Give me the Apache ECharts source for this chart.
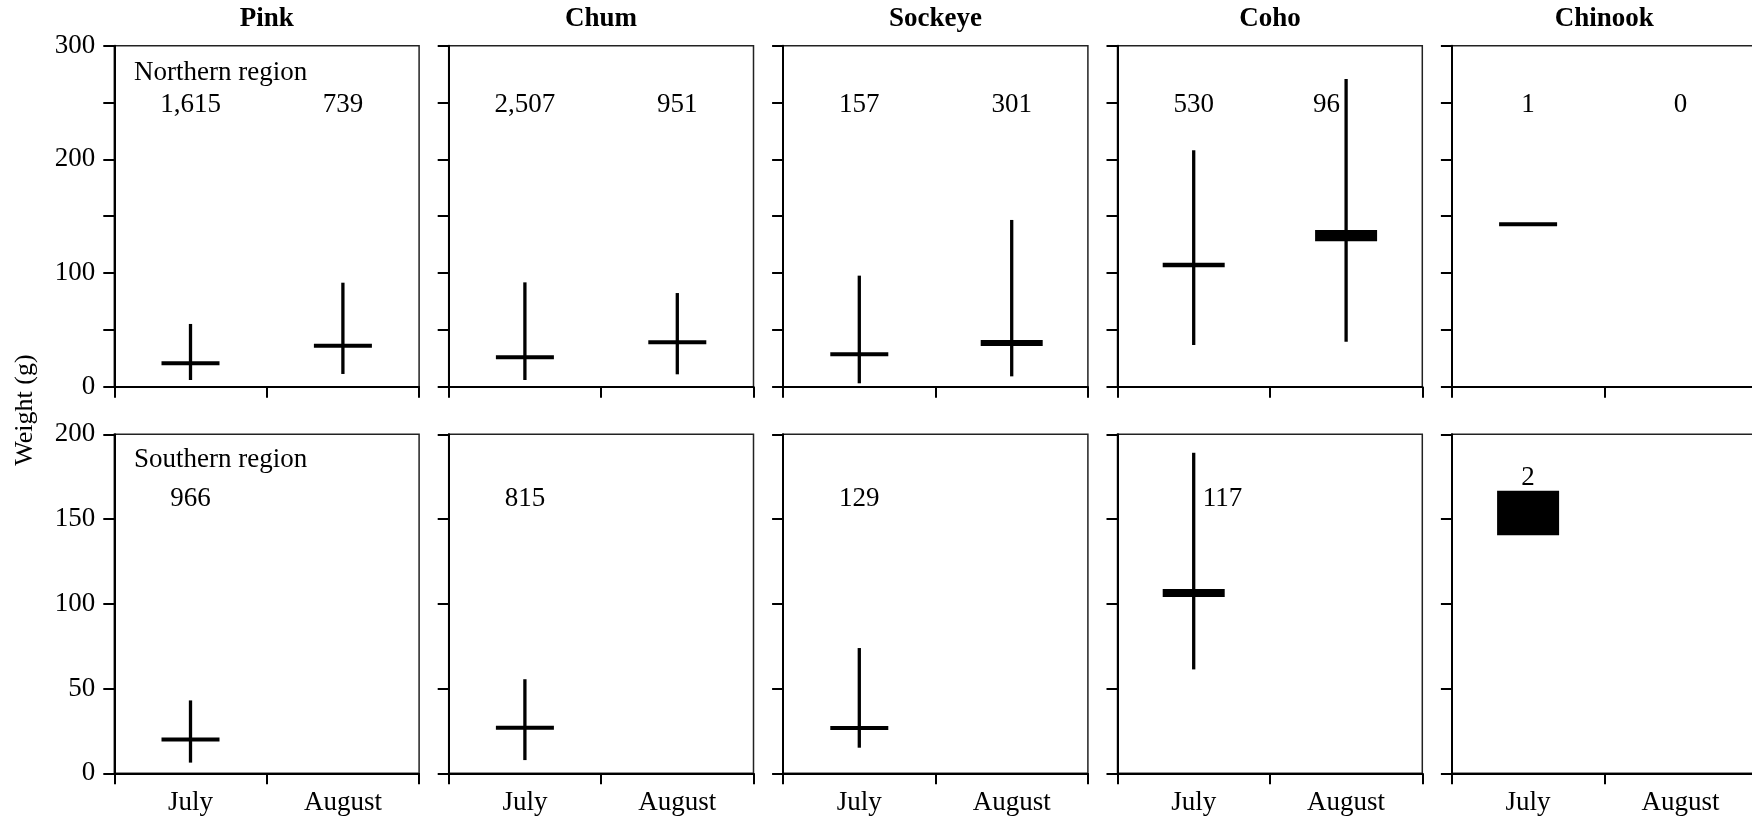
<!DOCTYPE html>
<html><head><meta charset="utf-8">
<script src="https://cdn.jsdelivr.net/npm/echarts@6/dist/echarts.min.js"></script>
<style>html,body{margin:0;padding:0;background:#fff}#c{width:1752px;height:820px}</style>
</head><body><div id="c"></div><script>
// ---------- data ----------
const species = ['Pink', 'Chum', 'Sockeye', 'Coho', 'Chinook'];
const months = ['July', 'August'];
const regionNames = ['Northern region', 'Southern region'];
const yAxisTitle = 'Weight (g)';
const northYTicks = [0, 100, 200, 300];
const southYTicks = [0, 50, 100, 150, 200];

// per species: [July, August]   (null = no fish)
const northMin  = [[5.9, 11.2], [5.9, 10.9], [3.0, 9.1],   [36.7, 39.6],  [143, null]];
const northMax  = [[55.2, 91.5],[91.8, 82.4],[97.7, 146.7],[208, 270.7],  [143, null]];
const northLow  = [[20.6, 36.1],[25.8, 39.0],[28.5, 37.5], [106.8, 129.8],[143, null]];
const northHigh = [[20.6, 36.1],[25.8, 39.0],[28.5, 39.3], [107.2, 136.0],[143, null]];
const northN    = [[1615, 739], [2507, 951], [157, 301],   [530, 96],     [1, 0]];

const southMin  = [[6.3, null], [7.8, null], [15.1, null], [61.3, null],  [141.6, null]];
const southMax  = [[43.0, null],[55.5, null],[73.9, null], [189.1, null], [165.5, null]];
const southLow  = [[20.0, null],[26.9, null],[26.7, null], [105.2, null], [141.6, null]];
const southHigh = [[20.0, null],[26.9, null],[26.7, null], [107.6, null], [165.5, null]];
const southN    = [[966, null], [815, null], [129, null],  [117, null],   [2, null]];

// ---------- layout ----------
const FONT = "'Liberation Serif','Times New Roman',serif";
const FS = 27;
const panelLeft0 = 114.3, panelStep = 334.4, panelW = 304.8;
const rowTop = [45.7, 434.3], rowH = [341, 339];
const rowMax = [300, 200];
const labelVal = [248, 162];

const rowsMin = [northMin, southMin], rowsMax = [northMax, southMax];
const rowsLow = [northLow, southLow], rowsHigh = [northHigh, southHigh];
const rowsN = [northN, southN];
const rowTicks = [northYTicks, southYTicks];

const grids = [], xAxes = [], yAxes = [], series = [], graphics = [];

function fmtN(n) { return String(n).replace(/\B(?=(\d{3})+(?!\d))/g, ','); }

function renderMark(params, api) {
  const cat = api.value(0), mn = api.value(1), mx = api.value(2), lo = api.value(3), hi = api.value(4);
  const pT = api.coord([cat, mx]), pB = api.coord([cat, mn]);
  const pL = api.coord([cat, lo]), pH = api.coord([cat, hi]);
  const half = 29;
  return {
    type: 'group',
    children: [
      { type: 'line', shape: { x1: pT[0], y1: pT[1], x2: pB[0], y2: pB[1] },
        style: { stroke: '#000', lineWidth: 3.3 } },
      { type: 'rect', shape: { x: pH[0] - half, y: pH[1], width: 2 * half, height: Math.max(0, pL[1] - pH[1]) },
        style: { fill: '#000', stroke: '#000', lineWidth: 4 } }
    ]
  };
}

function makeLabelRenderer(r) {
  return function (params, api) {
    const cat = api.value(0), n = api.value(1), mx = api.value(2), mn = api.value(3), hi = api.value(4), lo = api.value(5);
    const lv = labelVal[r];
    const p = api.coord([cat, lv]);
    let x = p[0], y = p[1], align = 'center', vAlign = 'middle';
    const hasData = !isNaN(mx);
    if (hasData && mx > lv) {
      if (mn === lo && mx === hi) {
        const ph = api.coord([cat, hi]);
        y = ph[1] - 1; vAlign = 'bottom';
      } else if (cat === 1) {
        x = p[0] - 6; align = 'right';
      } else {
        x = p[0] + 9; align = 'left';
      }
    }
    return { type: 'text', x: x, y: y,
      style: { text: fmtN(n), fill: '#000', font: FS + 'px ' + FONT, align: align, verticalAlign: vAlign } };
  };
}

let gi = 0;
for (let r = 0; r < 2; r++) {
  for (let s = 0; s < species.length; s++) {
    const left = panelLeft0 + s * panelStep;
    grids.push({ left: left, top: rowTop[r], width: panelW, height: rowH[r],
      show: true, borderColor: '#222', borderWidth: 1.5, backgroundColor: 'transparent',
      containLabel: false, outerBoundsMode: 'none' });
    xAxes.push({ type: 'category', gridIndex: gi, data: months,
      axisLine: { show: true, lineStyle: { color: '#000', width: 2 } },
      axisTick: { show: true, length: 11, lineStyle: { color: '#000', width: 2 } },
      axisLabel: { show: r === 1, interval: 0, margin: 16, color: '#000', fontFamily: FONT, fontSize: FS },
      splitLine: { show: false } });
    const ticks = rowTicks[r];
    yAxes.push({ type: 'value', gridIndex: gi, min: 0, max: rowMax[r], interval: 50,
      axisLine: { show: true, lineStyle: { color: '#000', width: 2 } },
      axisTick: { show: true, length: 11, lineStyle: { color: '#000', width: 2 } },
      axisLabel: { show: s === 0, margin: 19, color: '#000', fontFamily: FONT, fontSize: FS,
        formatter: v => (ticks.indexOf(v) >= 0 ? String(v) : '') },
      splitLine: { show: false } });

    const markData = [], labelData = [];
    for (let m = 0; m < 2; m++) {
      const mn = rowsMin[r][s][m];
      if (mn !== null) {
        markData.push([m, mn, rowsMax[r][s][m], rowsLow[r][s][m], rowsHigh[r][s][m]]);
      }
      const n = rowsN[r][s][m];
      if (n !== null) {
        labelData.push([m, n,
          mn === null ? NaN : rowsMax[r][s][m], mn === null ? NaN : mn,
          mn === null ? NaN : rowsHigh[r][s][m], mn === null ? NaN : rowsLow[r][s][m]]);
      }
    }
    series.push({ type: 'custom', xAxisIndex: gi, yAxisIndex: gi, renderItem: renderMark,
      data: markData, clip: false, silent: true });
    series.push({ type: 'custom', xAxisIndex: gi, yAxisIndex: gi, renderItem: makeLabelRenderer(r),
      data: labelData, clip: false, silent: true });

    if (r === 0) {
      graphics.push({ type: 'text', x: left + panelW / 2, y: 19,
        style: { text: species[s], fill: '#000', font: 'bold 27px ' + FONT, align: 'center', verticalAlign: 'middle' } });
    }
    gi++;
  }
}

graphics.push({ type: 'text', x: 134, y: 73,
  style: { text: regionNames[0], fill: '#000', font: FS + 'px ' + FONT, align: 'left', verticalAlign: 'middle' } });
graphics.push({ type: 'text', x: 134, y: 460,
  style: { text: regionNames[1], fill: '#000', font: FS + 'px ' + FONT, align: 'left', verticalAlign: 'middle' } });
graphics.push({ type: 'text', x: 25, y: 410, rotation: Math.PI / 2,
  style: { text: yAxisTitle, fill: '#000', font: '26px ' + FONT, align: 'center', verticalAlign: 'middle' } });

const chart = echarts.init(document.getElementById('c'), null, { renderer: 'canvas' });
chart.setOption({
  animation: false,
  backgroundColor: '#fff',
  grid: grids, xAxis: xAxes, yAxis: yAxes, series: series, graphic: graphics
});
</script></body></html>
